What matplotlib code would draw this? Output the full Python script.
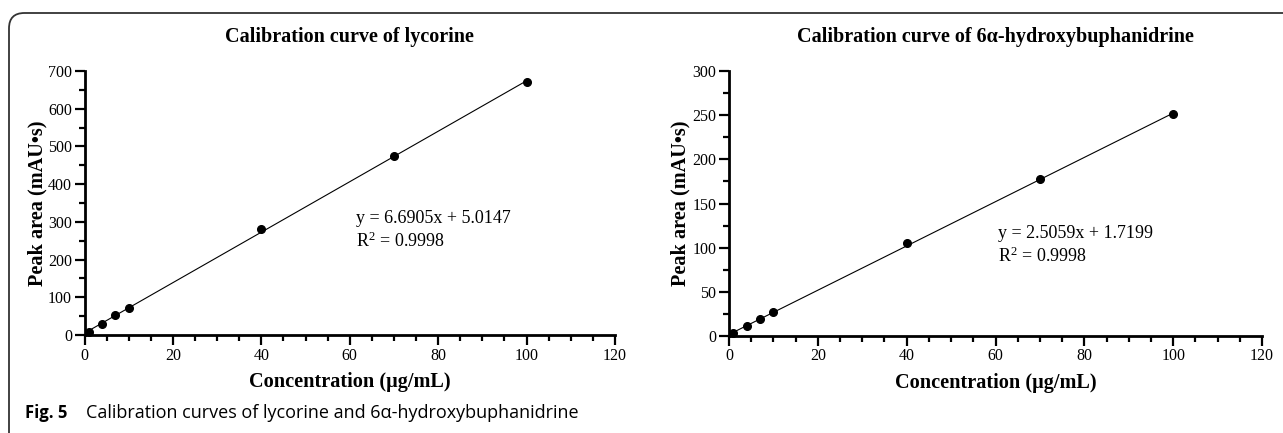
import matplotlib
matplotlib.use("Agg")
import matplotlib.pyplot as plt
import numpy as np
from matplotlib.patches import FancyBboxPatch
from matplotlib.ticker import MultipleLocator
import matplotlib.transforms as mtransforms

# data
conc = [1, 4, 7, 10, 40, 70, 100]
area_lyc = [9, 30, 52, 72, 281, 474, 671]
area_hb = [3, 11, 19, 27, 105, 178, 251]

fit_lyc = (6.6905, 5.0147)
fit_hb = (2.5059, 1.7199)
r2_lyc = 0.9998
r2_hb = 0.9998

titles = ["Calibration curve of lycorine",
          "Calibration curve of 6\u03b1-hydroxybuphanidrine"]
ymax = [700, 300]
ystep = [100, 50]

serif = "Liberation Serif"
plt.rcParams["mathtext.fontset"] = "custom"
plt.rcParams["mathtext.rm"] = serif
plt.rcParams["mathtext.it"] = serif + ":italic"

W, H = 1283, 433
fig = plt.figure(figsize=(W / 100, H / 100), dpi=100)

# axes positions in pixels (left, top, right, bottom)
boxes = [(84.5, 71, 615, 335), (729, 71, 1262, 336)]
# series, fit, r2, text x (data), text y (data)
series = [(area_lyc, fit_lyc, r2_lyc, 61.5, 278),
          (area_hb, fit_hb, r2_hb, 60.6, 102.5)]
ylab_x = [-0.0707, -0.073]

for i, (l, t, r, b) in enumerate(boxes):
    ax = fig.add_axes([l / W, 1 - b / H, (r - l) / W, (b - t) / H])
    ys, (k, c), r2, tx, ty = series[i]

    xx = np.array([0.3, conc[-1]])
    ax.plot(xx, k * xx + c, color="black", lw=0.8, zorder=2)
    ax.plot(conc, ys, "o", color="black", ms=5.5, zorder=3, clip_on=False)

    ax.set_xlim(0, 120)
    ax.set_ylim(0, ymax[i])
    ax.xaxis.set_major_locator(MultipleLocator(20))
    ax.xaxis.set_minor_locator(MultipleLocator(5))
    ax.yaxis.set_major_locator(MultipleLocator(ystep[i]))
    ax.yaxis.set_minor_locator(MultipleLocator(ystep[i] / 2))

    for s in ["top", "right"]:
        ax.spines[s].set_visible(False)
    for s in ["left", "bottom"]:
        ax.spines[s].set_linewidth(2)
    ax.tick_params(which="major", direction="out", length=7, width=1.6,
                   labelsize=11.5, pad=2)
    ax.tick_params(which="minor", direction="out", length=4, width=1.6)
    for lab in ax.get_xticklabels() + ax.get_yticklabels():
        lab.set_fontfamily(serif)

    ax.set_xlabel("Concentration (\u03bcg/mL)", fontfamily=serif,
                  fontweight="bold", fontsize=14.6, labelpad=6)
    ax.set_ylabel("Peak area (mAU\u2022s)", fontfamily=serif,
                  fontweight="bold", fontsize=14.6)
    ax.yaxis.set_label_coords(ylab_x[i], 0.5)

    ax.text(tx, ty, "y = %.4fx + %.4f\nR$^{2}$ = %.4f" % (k, c, r2),
            fontfamily=serif, fontsize=13, ha="left", va="center",
            linespacing=1.3)

    trans = mtransforms.blended_transform_factory(ax.transAxes, fig.transFigure)
    ax.text(0.5, 1 - 37 / H, titles[i], transform=trans, ha="center",
            va="center", fontfamily=serif, fontweight="bold", fontsize=14.5)

# rounded frame around the figure panel
frame = FancyBboxPatch((9 / W, -0.2), 1.2, 1 - 13 / H + 0.2,
                       boxstyle="round,pad=0,rounding_size=0.012",
                       transform=fig.transFigure, fill=False,
                       edgecolor="#333333", lw=1.3, mutation_aspect=W / H)
fig.patches.append(frame)

fig.text(25 / W, 1 - 413 / H, "Fig. 5", fontfamily="Open Sans",
         fontweight="bold", fontsize=12, va="center", ha="left")
fig.text(86 / W, 1 - 413 / H,
         "Calibration curves of lycorine and 6\u03b1-hydroxybuphanidrine",
         fontfamily="Open Sans", fontsize=13, va="center", ha="left")

fig.savefig("out.png", dpi=100)
